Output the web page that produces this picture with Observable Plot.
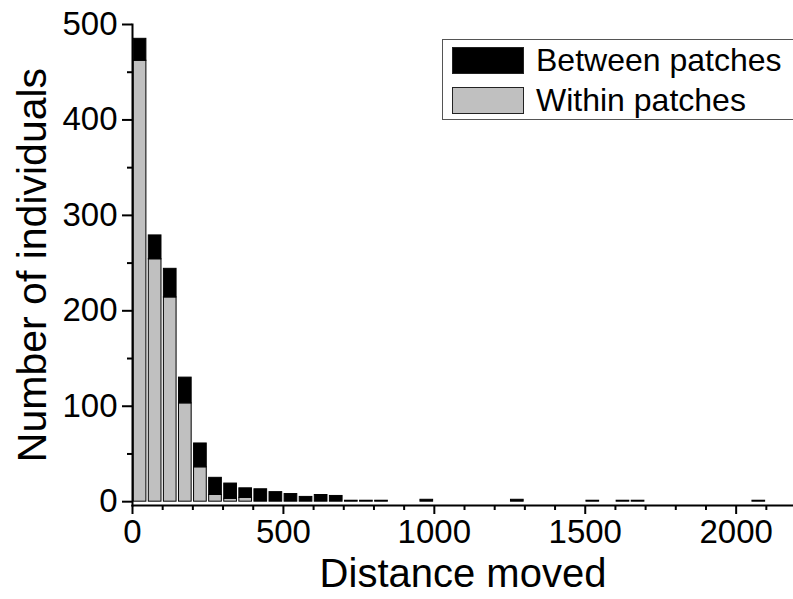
<!DOCTYPE html>
<html>
<head>
<meta charset="utf-8">
<script src="https://cdn.jsdelivr.net/npm/d3@7"></script>
<script src="https://cdn.jsdelivr.net/npm/@observablehq/plot@0.6"></script>
<style>
html, body { margin: 0; padding: 0; background: #fff; }
#wrap { position: relative; width: 793px; height: 599px; overflow: hidden; font-family: "Liberation Sans", Arial, sans-serif; }
#legend { position: absolute; left: 442px; top: 39px; width: 380px; height: 81px; border: 1px solid #555; box-sizing: border-box; background: #fff; }
.sw { position: absolute; left: 9px; width: 72px; height: 27px; box-sizing: border-box; }
.lt { position: absolute; left: 93px; font-size: 32px; line-height: 32px; color: #000; white-space: nowrap; }
</style>
</head>
<body>
<div id="wrap"></div>
<script>
// Histogram bins (start of each 50-unit bin), only non-empty bins
const binStart = [0, 50, 100, 150, 200, 250, 300, 350, 400, 450, 500, 550, 600, 650, 700, 750, 800, 950, 1250, 1500, 1600, 1650, 2050];
const within   = [462, 254, 214, 103, 36, 7, 3, 4, 0, 0, 0, 0, 0, 0, 0, 0, 0, 0, 0, 0, 0, 0, 0];
const between  = [23, 25, 30, 27, 25, 18, 16, 10, 13, 10, 8, 5, 7, 6, 1, 1, 1, 2, 2, 1, 1, 1, 1];
const binWidth = 50;
const seriesNames = ["Between patches", "Within patches"];
const seriesColors = ["#000000", "#c0c0c0"];
const xTicks = [0, 500, 1000, 1500, 2000];
const xMinorTicks = [100, 200, 300, 400, 600, 700, 800, 900, 1100, 1200, 1300, 1400, 1600, 1700, 1800, 1900, 2100];
const yTicks = [0, 100, 200, 300, 400, 500];
const yMinorTicks = [50, 150, 250, 350, 450];
const xLabel = "Distance moved";
const yLabel = "Number of individuals";

const rows = [];
binStart.forEach((b, i) => {
  if (within[i] > 0) rows.push({x1: b, x2: b + binWidth, y1: 0, y2: within[i], s: seriesNames[1]});
  if (between[i] > 0) rows.push({x1: b, x2: b + binWidth, y1: within[i], y2: within[i] + between[i], s: seriesNames[0]});
});

const font = "'Liberation Sans', Arial, sans-serif";
const chart = Plot.plot({
  width: 793,
  height: 599,
  marginLeft: 132,
  marginRight: 0,
  marginTop: 24,
  marginBottom: 94,
  style: {fontFamily: font, background: "white", color: "black", overflow: "visible"},
  x: {domain: [0, 2190]},
  y: {domain: [-4, 500]},
  color: {domain: seriesNames, range: seriesColors},
  marks: [
    Plot.rect(rows, {x1: "x1", x2: "x2", y1: "y1", y2: "y2", fill: "s", stroke: "#000", strokeWidth: 1, insetLeft: 1.2, insetRight: 1.2}),
    Plot.frame({anchor: "left", stroke: "#000", strokeWidth: 2}),
    Plot.frame({anchor: "bottom", stroke: "#000", strokeWidth: 2}),
    Plot.axisX({ticks: xTicks, tickSize: 9, tickPadding: 5, fontSize: 33, label: null, strokeWidth: 2, tickFormat: d => String(d)}),
    Plot.axisX({ticks: xMinorTicks, tickSize: 5, text: null, label: null, strokeWidth: 2}),
    Plot.axisY({ticks: yTicks, tickSize: 10, tickPadding: 5, fontSize: 33, label: null, strokeWidth: 2, tickFormat: d => String(d)}),
    Plot.axisY({ticks: yMinorTicks, tickSize: 5, text: null, label: null, strokeWidth: 2}),
    Plot.text([xLabel], {frameAnchor: "bottom", dy: 81, fontSize: 40, text: d => d, fill: "#000"}),
    Plot.text([yLabel], {frameAnchor: "left", textAnchor: "middle", dx: -100, rotate: -90, fontSize: 41, text: d => d, fill: "#000"})
  ]
});

const wrap = document.getElementById("wrap");
wrap.appendChild(chart);

const legend = document.createElement("div");
legend.id = "legend";
seriesNames.forEach((name, i) => {
  const sw = document.createElement("div");
  sw.className = "sw";
  sw.style.top = (7 + i * 40) + "px";
  sw.style.background = seriesColors[i];
  sw.style.border = "1px solid #222";
  legend.appendChild(sw);
  const t = document.createElement("div");
  t.className = "lt";
  t.style.top = (4 + i * 40) + "px";
  t.textContent = name;
  legend.appendChild(t);
});
wrap.appendChild(legend);
</script>
</body>
</html>
